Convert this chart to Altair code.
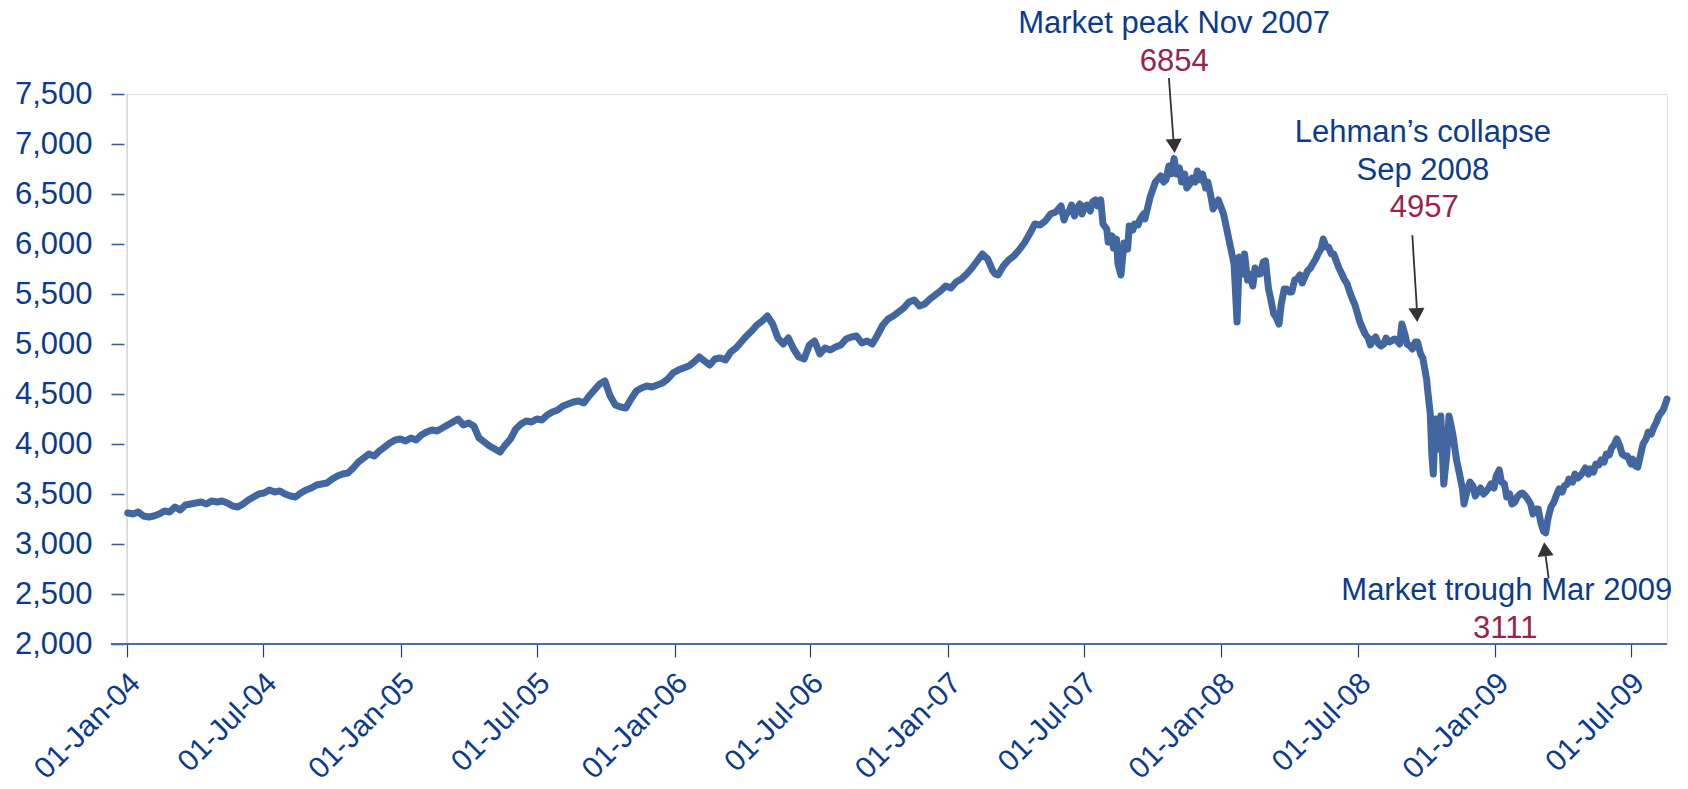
import altair as alt
import pandas as pd

# ---------------- data ----------------
dates = [
    "2004-01-02", "2004-01-09", "2004-01-16", "2004-01-23", "2004-01-30", "2004-02-06", "2004-02-13",
    "2004-02-20", "2004-02-27", "2004-03-05", "2004-03-12", "2004-03-19", "2004-03-26", "2004-04-02",
    "2004-04-09", "2004-04-16", "2004-04-23", "2004-04-30", "2004-05-07", "2004-05-14", "2004-05-21",
    "2004-05-28", "2004-06-04", "2004-06-11", "2004-06-18", "2004-06-25", "2004-07-02", "2004-07-09",
    "2004-07-16", "2004-07-23", "2004-07-30", "2004-08-06", "2004-08-13", "2004-08-20", "2004-08-27",
    "2004-09-03", "2004-09-10", "2004-09-17", "2004-09-24", "2004-10-01", "2004-10-08", "2004-10-15",
    "2004-10-22", "2004-10-29", "2004-11-05", "2004-11-12", "2004-11-19", "2004-11-26", "2004-12-03",
    "2004-12-10", "2004-12-17", "2004-12-24", "2004-12-31",
    "2005-01-07", "2005-01-14", "2005-01-21", "2005-01-28", "2005-02-04", "2005-02-11", "2005-02-18",
    "2005-02-25", "2005-03-04", "2005-03-11", "2005-03-18", "2005-03-25", "2005-04-01", "2005-04-08",
    "2005-04-15", "2005-04-22", "2005-04-29", "2005-05-06", "2005-05-13", "2005-05-20", "2005-05-27",
    "2005-06-03", "2005-06-10", "2005-06-17", "2005-06-24", "2005-07-01", "2005-07-08", "2005-07-15",
    "2005-07-22", "2005-07-29", "2005-08-05", "2005-08-12", "2005-08-19", "2005-08-26", "2005-09-02",
    "2005-09-09", "2005-09-16", "2005-09-23", "2005-09-30", "2005-10-07", "2005-10-14", "2005-10-21",
    "2005-10-28", "2005-11-04", "2005-11-11", "2005-11-18", "2005-11-25", "2005-12-02", "2005-12-09",
    "2005-12-16", "2005-12-23", "2005-12-30",
    "2006-01-06", "2006-01-13", "2006-01-20", "2006-01-27", "2006-02-03", "2006-02-10", "2006-02-17",
    "2006-02-24", "2006-03-03", "2006-03-10", "2006-03-17", "2006-03-24", "2006-03-31", "2006-04-07",
    "2006-04-14", "2006-04-21", "2006-04-28", "2006-05-05", "2006-05-12", "2006-05-19", "2006-05-26",
    "2006-06-02", "2006-06-09", "2006-06-16", "2006-06-23", "2006-06-30", "2006-07-07", "2006-07-14",
    "2006-07-21", "2006-07-28", "2006-08-04", "2006-08-11", "2006-08-18", "2006-08-25", "2006-09-01",
    "2006-09-08", "2006-09-15", "2006-09-22", "2006-09-29", "2006-10-06", "2006-10-13", "2006-10-20",
    "2006-10-27", "2006-11-03", "2006-11-10", "2006-11-17", "2006-11-24", "2006-12-01", "2006-12-08",
    "2006-12-15", "2006-12-22", "2006-12-29",
    "2007-01-05", "2007-01-12", "2007-01-19", "2007-01-26", "2007-02-02", "2007-02-09", "2007-02-16",
    "2007-02-23", "2007-03-02", "2007-03-05", "2007-03-09", "2007-03-16", "2007-03-23", "2007-03-30",
    "2007-04-06", "2007-04-13", "2007-04-20", "2007-04-27", "2007-05-04", "2007-05-11", "2007-05-18",
    "2007-05-25", "2007-06-01", "2007-06-05", "2007-06-08", "2007-06-12", "2007-06-15", "2007-06-19",
    "2007-06-22", "2007-06-26", "2007-06-29", "2007-07-03", "2007-07-06", "2007-07-10", "2007-07-13",
    "2007-07-17", "2007-07-20", "2007-07-24", "2007-07-27", "2007-08-01", "2007-08-03", "2007-08-08",
    "2007-08-10", "2007-08-14", "2007-08-16", "2007-08-20", "2007-08-24", "2007-08-29", "2007-08-31",
    "2007-09-05", "2007-09-07", "2007-09-12", "2007-09-14", "2007-09-19", "2007-09-21", "2007-09-28",
    "2007-10-05", "2007-10-12", "2007-10-16", "2007-10-19", "2007-10-23", "2007-10-26", "2007-10-30",
    "2007-11-02", "2007-11-06", "2007-11-09", "2007-11-13", "2007-11-16", "2007-11-20", "2007-11-23",
    "2007-11-27", "2007-11-30", "2007-12-04", "2007-12-07", "2007-12-11", "2007-12-14", "2007-12-18",
    "2007-12-21", "2007-12-28",
    "2008-01-04", "2008-01-11", "2008-01-18", "2008-01-22", "2008-01-25", "2008-01-29", "2008-02-01",
    "2008-02-05", "2008-02-08", "2008-02-12", "2008-02-15", "2008-02-19", "2008-02-22", "2008-02-26",
    "2008-02-29", "2008-03-04", "2008-03-07", "2008-03-11", "2008-03-14", "2008-03-18", "2008-03-21",
    "2008-03-25", "2008-03-28", "2008-04-01", "2008-04-04", "2008-04-08", "2008-04-11", "2008-04-15",
    "2008-04-18", "2008-04-22", "2008-04-25", "2008-04-29", "2008-05-02", "2008-05-06", "2008-05-09",
    "2008-05-13", "2008-05-16", "2008-05-20", "2008-05-23", "2008-05-27", "2008-05-30", "2008-06-03",
    "2008-06-06", "2008-06-10", "2008-06-13", "2008-06-17", "2008-06-20", "2008-06-24", "2008-06-27",
    "2008-07-01", "2008-07-04", "2008-07-08", "2008-07-11", "2008-07-15", "2008-07-18", "2008-07-22",
    "2008-07-25", "2008-07-29", "2008-08-01", "2008-08-05", "2008-08-08", "2008-08-12", "2008-08-15",
    "2008-08-19", "2008-08-22", "2008-08-26", "2008-08-29", "2008-09-02", "2008-09-05", "2008-09-09",
    "2008-09-12", "2008-09-16", "2008-09-19", "2008-09-23", "2008-09-26", "2008-10-01", "2008-10-03",
    "2008-10-06", "2008-10-08", "2008-10-10", "2008-10-13", "2008-10-16", "2008-10-20", "2008-10-24",
    "2008-10-28", "2008-10-31", "2008-11-05", "2008-11-10", "2008-11-14", "2008-11-18", "2008-11-20",
    "2008-11-25", "2008-11-28", "2008-12-02", "2008-12-05", "2008-12-09", "2008-12-12", "2008-12-16",
    "2008-12-19", "2008-12-23", "2008-12-26", "2008-12-30",
    "2009-01-02", "2009-01-06", "2009-01-09", "2009-01-13", "2009-01-16", "2009-01-20", "2009-01-23",
    "2009-01-27", "2009-01-30", "2009-02-03", "2009-02-06", "2009-02-10", "2009-02-13", "2009-02-17",
    "2009-02-20", "2009-02-24", "2009-02-27", "2009-03-03", "2009-03-06", "2009-03-09", "2009-03-12",
    "2009-03-16", "2009-03-20", "2009-03-24", "2009-03-27", "2009-03-31", "2009-04-03", "2009-04-07",
    "2009-04-09", "2009-04-14", "2009-04-17", "2009-04-21", "2009-04-24", "2009-04-28", "2009-05-01",
    "2009-05-05", "2009-05-08", "2009-05-12", "2009-05-15", "2009-05-19", "2009-05-22", "2009-05-26",
    "2009-05-29", "2009-06-02", "2009-06-05", "2009-06-09", "2009-06-12", "2009-06-16", "2009-06-19",
    "2009-06-23", "2009-06-26", "2009-07-01", "2009-07-03", "2009-07-07", "2009-07-10", "2009-07-14",
    "2009-07-17", "2009-07-21", "2009-07-24", "2009-07-28", "2009-07-31", "2009-08-04", "2009-08-07",
    "2009-08-12", "2009-08-14", "2009-08-18",
]
values = [
    3310, 3300, 3320, 3280, 3270, 3280, 3300,
    3330, 3320, 3370, 3340, 3390, 3400, 3410,
    3420, 3400, 3430, 3420, 3430, 3410, 3380,
    3370, 3400, 3440, 3470, 3500, 3510, 3540,
    3520, 3530, 3500, 3480, 3470, 3510, 3540,
    3560, 3590, 3600, 3610, 3650, 3680, 3700,
    3710, 3760, 3820, 3860, 3900, 3880, 3930,
    3970, 4010, 4040, 4050,
    4030, 4060, 4040, 4090, 4120, 4140, 4130,
    4160, 4190, 4220, 4250, 4190, 4210, 4180,
    4060, 4020, 3980, 3950, 3920, 3990, 4050,
    4150, 4200, 4230, 4220, 4250, 4240, 4290,
    4320, 4340, 4380, 4400, 4420, 4430, 4410,
    4480, 4540, 4600, 4630, 4480, 4390, 4370,
    4360, 4450, 4530, 4560, 4580, 4570, 4590,
    4610, 4650, 4710,
    4740, 4760, 4780, 4820, 4870, 4830, 4790,
    4850, 4860, 4840, 4920, 4960, 5020, 5080,
    5130, 5190, 5230, 5280, 5200, 5060, 5000,
    5060, 4950, 4870, 4850, 4990, 5030, 4900,
    4960, 4940, 4970, 4990, 5050, 5070, 5080,
    5010, 5030, 5000, 5090, 5190, 5250, 5280,
    5320, 5360, 5420, 5440, 5380, 5400, 5450,
    5490, 5530, 5580,
    5560, 5620, 5650, 5700, 5760, 5830, 5900,
    5850, 5730, 5700, 5690, 5780, 5840, 5880,
    5940, 6010, 6100, 6200, 6190, 6230, 6300,
    6320, 6380, 6240, 6300, 6330, 6390, 6280,
    6350, 6400, 6300, 6380, 6390, 6330, 6420,
    6440, 6380, 6440, 6200, 6150, 6020, 6080,
    5960, 6050, 5800, 5690, 6010, 5950, 6180,
    6140, 6200, 6190, 6240, 6300, 6250, 6470,
    6620, 6680, 6620, 6640, 6780, 6700, 6854,
    6700, 6760, 6620, 6700, 6560, 6600, 6660,
    6620, 6730, 6640, 6700, 6560, 6620, 6480,
    6350, 6440,
    6300, 6050, 5800, 5220, 5870, 5700, 5900,
    5640, 5700, 5580, 5760, 5700, 5700, 5820,
    5830, 5550, 5450, 5300, 5270, 5200, 5400,
    5550, 5550, 5520, 5520, 5640, 5650, 5690,
    5610, 5680, 5730, 5760, 5800, 5850, 5900,
    5950, 6050, 5970, 5970, 5900, 5900, 5820,
    5760, 5700, 5650, 5600, 5530, 5450, 5400,
    5300, 5220, 5150, 5100, 5060, 4990, 5050,
    5070, 5000, 4980, 5000, 5060, 5020, 5030,
    5050, 5040, 5000, 5200, 5100, 5000, 4980,
    4950, 5020, 5020, 4900, 4860, 4650, 4500,
    4300, 3900, 3700, 4250, 3950, 4280, 3600,
    3900, 4280, 4100, 3840, 3700, 3550, 3400,
    3560, 3620, 3580, 3480, 3530, 3560, 3500,
    3520, 3560, 3600, 3560,
    3680, 3740, 3620, 3600, 3470, 3500, 3400,
    3420, 3470, 3500, 3510, 3480, 3450, 3400,
    3300, 3350, 3350, 3200, 3130, 3111, 3250,
    3370, 3420, 3500, 3550, 3520, 3580, 3600,
    3650, 3620, 3700, 3660, 3680, 3720, 3760,
    3700, 3750, 3720, 3800, 3790, 3840, 3820,
    3900, 3890, 3960, 4000, 4050, 3980, 3900,
    3880, 3880, 3800, 3850, 3780, 3770, 3900,
    4000, 4050, 4120, 4100, 4160, 4220, 4280,
    4330, 4360, 4450,
]

y_ticks = [2000, 2500, 3000, 3500, 4000, 4500, 5000, 5500, 6000, 6500, 7000, 7500]
x_tick_dates = [(2004, 1), (2004, 7), (2005, 1), (2005, 7), (2006, 1), (2006, 7),
                (2007, 1), (2007, 7), (2008, 1), (2008, 7), (2009, 1), (2009, 7)]

# annotation texts (anchored in data space)
ann_text = ["Market peak Nov 2007", "6854",
            "Lehman\u2019s collapse", "Sep 2008", "4957",
            "Market trough Mar 2009", "3111"]
ann_date = ["2007-10-30", "2007-10-30",
            "2008-09-26", "2008-09-26", "2008-09-28",
            "2009-01-16", "2009-01-14"]
ann_value = [8111, 7730, 7020, 6640, 6269, 2437, 2057]
ann_kind = ["label", "value", "label", "label", "value", "label", "value"]

# arrows: shaft start -> arrow head
arr_date = ["2007-10-23", "2008-09-12", "2009-03-13"]
arr_value = [7660, 6089, 2657]
arr_date2 = ["2007-10-29", "2008-09-18", "2009-03-09"]
arr_value2 = [7050, 5359, 2878]
head_date = ["2007-10-30", "2008-09-18", "2009-03-08"]
head_value = [6980, 5289, 2948]
head_shape = ["triangle-down", "triangle-down", "triangle-up"]
head_angle = [356, 356.5, 354]

# ---------------- chart ----------------
W, H = 1540, 550
NAVY = "#0B3B8C"
RED = "#9B2348"
LINE = "#4266A0"
FONT = "Liberation Sans"

df = pd.DataFrame({"date": dates, "value": values})
ann = pd.DataFrame({"date": ann_date, "value": ann_value, "text": ann_text,
                    "color": [NAVY if k == "label" else RED for k in ann_kind]})
arrows = pd.DataFrame({"date": arr_date, "value": arr_value,
                       "date2": arr_date2, "value2": arr_value2})
heads = pd.DataFrame({"date": head_date, "value": head_value,
                      "shape": head_shape, "angle": head_angle})

x_scale = alt.Scale(type="utc", domain=[alt.DateTime(year=2004, month=1, date=1, utc=True),
                                        alt.DateTime(year=2009, month=8, date=18, utc=True)])
y_scale = alt.Scale(domain=[2000, 7500], nice=False, zero=False)

x_axis = alt.Axis(
    values=[alt.DateTime(year=y, month=m, date=1, utc=True) for y, m in x_tick_dates],
    format="%d-%b-%y", labelAngle=315, labelAlign="right", labelBaseline="middle",
    labelPadding=21, labelOffset=8, labelFont=FONT, labelFontSize=30, labelColor=NAVY,
    labelOverlap=False, labelFlush=False, domain=False, grid=False,
    ticks=True, tickSize=13, tickColor="#1F3C88", tickWidth=1.2, title=None,
)
y_axis = alt.Axis(
    values=y_ticks, format=",d", offset=3, domain=False, grid=False,
    ticks=True, tickSize=13, tickColor="#3F5FA0", tickWidth=1.6,
    labelPadding=19, labelFont=FONT, labelFontSize=31, labelColor=NAVY, title=None,
)

X = alt.X("date:T", scale=x_scale, axis=x_axis)
Y = alt.Y("value:Q", scale=y_scale, axis=y_axis)

one = pd.DataFrame({"a": [0]})
y_line = alt.Chart(one).mark_rule(color="#DADADA", strokeWidth=1.5).encode(
    x=alt.value(0), y=alt.value(0), y2=alt.value(H))
x_line = alt.Chart(one).mark_rule(color="#4A6AA8", strokeWidth=2).encode(
    x=alt.value(-16), x2=alt.value(W), y=alt.value(H))

series = alt.Chart(df).mark_line(color=LINE, strokeWidth=7, strokeJoin="round",
                                 strokeCap="round").encode(x=X, y=Y)

texts = alt.Chart(ann).mark_text(font=FONT, fontSize=31, align="center",
                                 baseline="alphabetic").encode(
    x="date:T", y="value:Q", text="text:N", color=alt.Color("color:N", scale=None))

shafts = alt.Chart(arrows).mark_rule(color="#333333", strokeWidth=1.8).encode(
    x="date:T", x2="date2:T", y="value:Q", y2="value2:Q")

arrowheads = alt.Chart(heads).mark_point(filled=True, size=260, opacity=1,
                                         color="#333333", strokeWidth=0).encode(
    x="date:T", y="value:Q",
    shape=alt.Shape("shape:N", scale=None),
    angle=alt.Angle("angle:Q", scale=None))

chart = alt.layer(y_line, series, x_line, shafts, arrowheads, texts).properties(
    width=W, height=H,
    autosize=alt.AutoSizeParams(type="none"),
    padding={"left": 127, "top": 94, "right": 21, "bottom": 145},
).configure_view(stroke=None).configure(background="white")

chart.save("out.html", embed_options={"renderer": "svg", "actions": False})
